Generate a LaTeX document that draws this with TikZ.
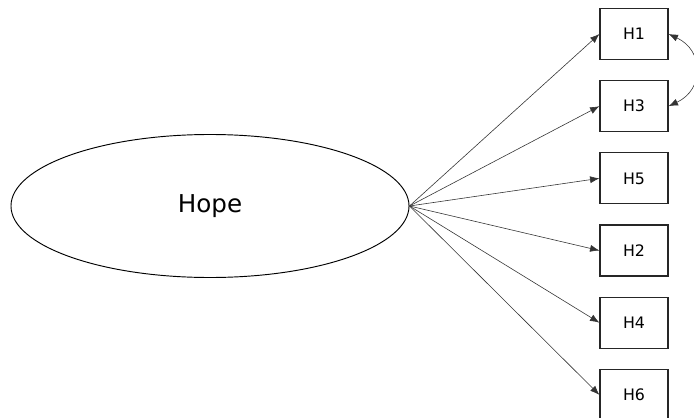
\documentclass[tikz,border=0pt]{standalone}
\usepackage{fontspec}
\setmainfont{DejaVu Sans}
\usetikzlibrary{positioning,arrows.meta,shapes.geometric}

\begin{document}
\begin{tikzpicture}[
    x=0.03cm, y=-0.03cm,
    node distance=0.6cm,
    latent/.style={draw, ellipse, line width=0.8pt, inner sep=0pt, minimum width=11.94cm, minimum height=4.29cm, font=\fontsize{21}{24}\selectfont},
    item/.style={draw=black!85, rectangle, line width=1pt, inner sep=0pt, minimum width=2.04cm, minimum height=1.53cm, font=\fontsize{13.5}{16}\selectfont},
    arrow/.style={-{Latex[length=8pt,width=6pt]}, draw=black!80, line width=0.5pt}
]
\useasboundingbox (0,0) rectangle (694,418);

% Nodes
\node[latent] (hope) at (210,206) {Hope};
\node[item] (h1) at (634,34) {H1};
\node[item, below=of h1] (h3) {H3};
\node[item, below=of h3] (h5) {H5};
\node[item, below=of h5] (h2) {H2};
\node[item, below=of h2] (h4) {H4};
\node[item, below=of h4] (h6) {H6};

% Arrows
\foreach \n in {h1,h3,h5,h2,h4,h6}
    \draw[arrow] (hope.east) -- (\n.west);
\draw[arrow, {Latex[length=8pt,width=6pt]}-{Latex[length=8pt,width=6pt]}] (h1.east) to[out=-25, in=25, looseness=1.4] (h3.east);

\end{tikzpicture}
\end{document}
